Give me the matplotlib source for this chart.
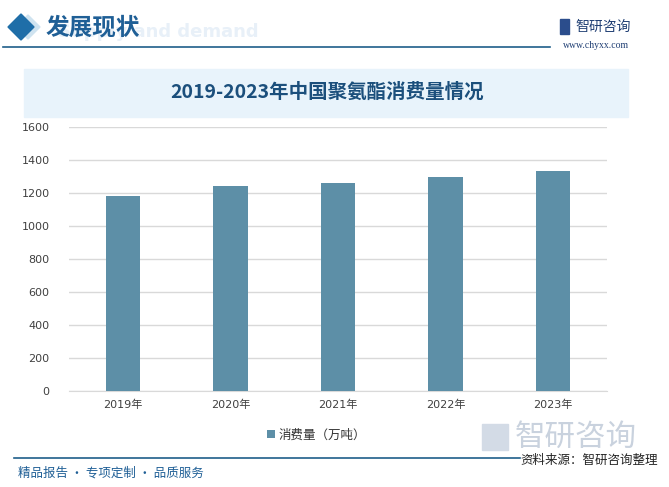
import matplotlib.pyplot as plt
from matplotlib.patches import Rectangle, Polygon

plt.rcParams['font.family'] = ['DejaVu Sans', 'Noto Sans CJK SC']

# 数据
years = ['2019年', '2020年', '2021年', '2022年', '2023年']
consumption = [1184, 1240, 1262, 1294, 1335]
yticks = [0, 200, 400, 600, 800, 1000, 1200, 1400, 1600]

bar_color = '#5d8fa7'
dark_blue = '#1b4f7c'

fig = plt.figure(figsize=(6.69, 4.87), dpi=100)
W, H = 669, 487


def fx(x):
    return x / W


def fy(y):
    return 1 - y / H


# 页眉
fig.patches.append(Polygon([(fx(16), fy(27)), (fx(28), fy(15)), (fx(40), fy(27)), (fx(28), fy(39))],
                           closed=True, transform=fig.transFigure, color='#cfe3f0', zorder=1))
fig.patches.append(Polygon([(fx(8), fy(27)), (fx(21), fy(14)), (fx(34), fy(27)), (fx(21), fy(40))],
                           closed=True, transform=fig.transFigure, color='#1f6ea8', zorder=2))
fig.text(fx(58), fy(32), 'Supply and demand', fontsize=13, fontweight='bold', color='#e8f0f8',
         ha='left', va='center', zorder=1)
fig.text(fx(46), fy(27), '发展现状', fontsize=17, fontweight='bold', color='#1f5f96',
         ha='left', va='center', family=['Noto Sans CJK SC'], zorder=2)
fig.add_artist(plt.Line2D([fx(3), fx(550)], [fy(47), fy(47)], color='#1f5f8a', lw=1.2))
fig.patches.append(Rectangle((fx(560), fy(34)), 9 / W, 15 / H, transform=fig.transFigure,
                             color='#2b4d8c', zorder=2))
fig.text(fx(575), fy(27), '智研咨询', fontsize=10, color='#1f3e73', ha='left', va='center',
         family=['Noto Sans CJK SC'])
fig.text(fx(596), fy(46), 'www.chyxx.com', fontsize=7, color='#1f3e73', ha='center', va='center',
         family=['Liberation Serif'])

# 标题栏
fig.patches.append(Rectangle((fx(24), fy(117)), 604 / W, 48 / H, transform=fig.transFigure,
                             color='#e8f3fb', zorder=1))
fig.text(fx(327), fy(92), '2019-2023年中国聚氨酯消费量情况', fontsize=14, fontweight='bold',
         color=dark_blue, ha='center', va='center', family=['Noto Sans CJK SC'], zorder=2)

# 柱状图
ax = fig.add_axes([fx(69), fy(391), (607 - 69) / W, (391 - 127) / H])
ax.patch.set_alpha(0)
x = range(len(years))
ax.bar(x, consumption, width=0.32, color=bar_color, label='消费量（万吨）', zorder=3)
ax.set_xlim(-0.5, len(years) - 0.5)
ax.set_ylim(0, 1600)
ax.set_yticks(yticks)
ax.set_xticks(list(x))
ax.set_xticklabels(years)
ax.yaxis.grid(True, color='#d9d9d9', lw=1, zorder=0)
for s in ['top', 'right', 'left']:
    ax.spines[s].set_visible(False)
ax.spines['bottom'].set_color('#d9d9d9')
ax.tick_params(axis='both', length=0, labelsize=8, colors='#404040', pad=6)
ax.tick_params(axis='y', pad=14)
ax.legend(loc='upper center', bbox_to_anchor=(0.46, -0.1), frameon=False, fontsize=9,
          handlelength=0.6, handleheight=0.6, handletextpad=0.3, labelcolor='#333333')

# 右下水印标志
fig.text(fx(515), fy(437), '智研咨询', fontsize=22, color='#c9d2de', ha='left', va='center',
         family=['Noto Sans CJK SC'])
fig.patches.append(Rectangle((fx(482), fy(450)), 26 / W, 26 / H, transform=fig.transFigure,
                             color='#d3dbe6', zorder=1))

# 页脚
fig.add_artist(plt.Line2D([fx(14), fx(520)], [fy(458), fy(458)], color='#1f5f8a', lw=1.2))
fig.text(fx(18), fy(473), '精品报告 · 专项定制 · 品质服务', fontsize=9, color='#1f5f96',
         ha='left', va='center', family=['Noto Sans CJK SC'])
fig.text(fx(658), fy(460), '资料来源：智研咨询整理', fontsize=9, color='#222222',
         ha='right', va='center', family=['Noto Sans CJK SC'])

fig.savefig('out.png', dpi=100)
